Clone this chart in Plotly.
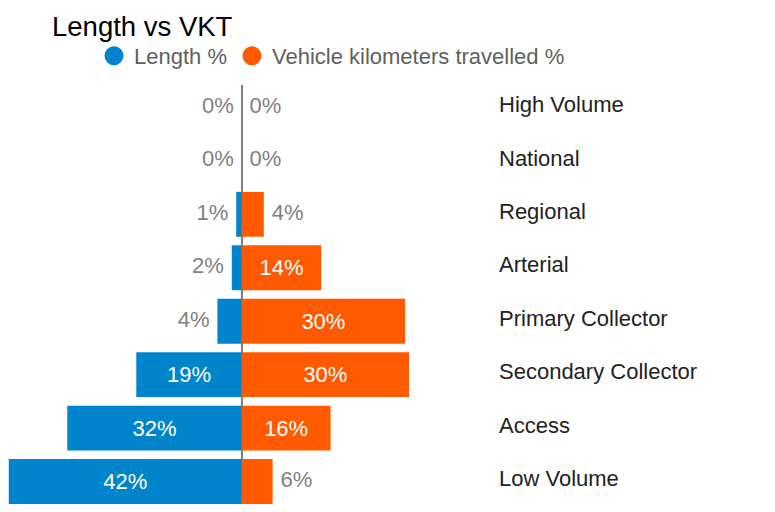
import plotly.graph_objects as go

categories = ["High Volume", "National", "Regional", "Arterial", "Primary Collector",
              "Secondary Collector", "Access", "Low Volume"]
length_pct = [0, 0, 1.0, 1.8, 4.4, 19.1, 31.6, 42.2]
vkt_pct = [0, 0, 4.0, 14.4, 29.6, 30.3, 16.1, 5.6]
series_names = ["Length %", "Vehicle kilometers travelled %"]

BLUE = "#0084CC"
ORANGE = "#FF5A00"
FONT = "Arial, Liberation Sans, sans-serif"
INSIDE_MIN = 10  # values at or above this get their label inside the bar

# The page body adds an 8px margin, so the figure is sized to fill the rest of the window
W, H = 767, 504


def lab(v):
    return f"{round(v)}%"


fig = go.Figure()

# Bars
fig.add_trace(go.Bar(
    y=categories, x=[-v for v in length_pct], orientation="h",
    marker=dict(color=BLUE, line=dict(width=0)), showlegend=False,
    text=[lab(v) if v >= INSIDE_MIN else "" for v in length_pct],
    textposition="inside", insidetextanchor="middle",
    textfont=dict(color="white", size=22, family=FONT), hoverinfo="skip"))
fig.add_trace(go.Bar(
    y=categories, x=vkt_pct, orientation="h",
    marker=dict(color=ORANGE, line=dict(width=0)), showlegend=False,
    text=[lab(v) if v >= INSIDE_MIN else "" for v in vkt_pct],
    textposition="inside", insidetextanchor="middle",
    textfont=dict(color="white", size=22, family=FONT), hoverinfo="skip"))

# Outside labels
small_len = [(c, v) for c, v in zip(categories, length_pct) if v < INSIDE_MIN]
small_vkt = [(c, v) for c, v in zip(categories, vkt_pct) if v < INSIDE_MIN]
fig.add_trace(go.Scatter(
    y=[c for c, _ in small_len], x=[-v for _, v in small_len],
    mode="markers+text", marker=dict(size=11, opacity=0),
    text=[lab(v) for _, v in small_len], textposition="middle left",
    textfont=dict(color="#7f7f7f", size=22, family=FONT),
    showlegend=False, hoverinfo="skip", cliponaxis=False))
fig.add_trace(go.Scatter(
    y=[c for c, _ in small_vkt], x=[v for _, v in small_vkt],
    mode="markers+text", marker=dict(size=11, opacity=0),
    text=[lab(v) for _, v in small_vkt], textposition="middle right",
    textfont=dict(color="#7f7f7f", size=22, family=FONT),
    showlegend=False, hoverinfo="skip", cliponaxis=False))

# Legend entries (circle symbols)
for name, col in zip(series_names, [BLUE, ORANGE]):
    fig.add_trace(go.Scatter(
        x=[None], y=[None], mode="markers", name=name,
        marker=dict(size=16, color=col, symbol="circle", line=dict(color=col, width=3))))

fig.update_layout(
    width=W, height=H,
    margin=dict(l=0, r=285, t=77, b=8, pad=0),
    paper_bgcolor="white", plot_bgcolor="white",
    barmode="relative", bargap=0.16,
    font=dict(family=FONT, size=22, color="#222222"),
    title=dict(text="Length vs VKT", x=44 / W, xanchor="left", xref="container",
               y=1 - 18 / H, yanchor="middle", yref="container",
               font=dict(size=27.5, color="black", family=FONT)),
    legend=dict(orientation="h", xref="container", yref="container",
                x=86 / W, xanchor="left", y=1 - 48 / H, yanchor="middle",
                font=dict(size=22, color="#5f5f5f", family=FONT),
                bgcolor="rgba(0,0,0,0)"),
    showlegend=True,
    xaxis=dict(range=[-42.34, 44.98], showticklabels=False, showgrid=False,
               zeroline=True, zerolinecolor="#808080", zerolinewidth=2,
               showline=False, fixedrange=True),
    yaxis=dict(type="category", categoryorder="array", categoryarray=categories,
               range=[7.42, -0.42], side="right", showgrid=False, zeroline=False,
               showline=False, ticks="", ticklabelstandoff=8, ticklabelshift=3,
               tickfont=dict(size=22, color="#222222", family=FONT)),
)

fig.write_html("out.html")
